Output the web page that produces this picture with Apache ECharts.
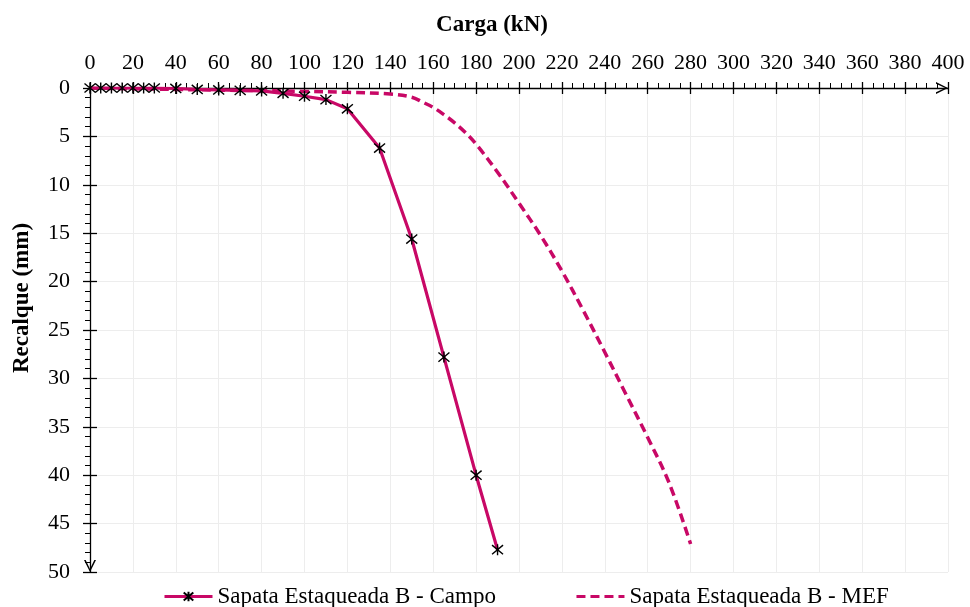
<!DOCTYPE html>
<html>
<head>
<meta charset="utf-8">
<script src="https://cdn.jsdelivr.net/npm/echarts@6/dist/echarts.min.js"></script>
<style>
html,body{margin:0;padding:0;background:#fff;}
#chart{width:970px;height:607px;}
</style>
</head>
<body>
<div id="chart"></div>
<script>
// ---- Data ----
var xTitle = 'Carga (kN)';
var yTitle = 'Recalque (mm)';
var seriesNames = ['Sapata Estaqueada B - Campo', 'Sapata Estaqueada B - MEF'];

var campoLoad = [0, 5, 10, 15, 20, 25, 30, 40, 50, 60, 70, 80, 90, 100, 110, 120, 135, 150, 165, 180, 190];
var campoSettle = [0, 0, 0, 0, 0, 0, 0, 0.05, 0.15, 0.2, 0.25, 0.3, 0.55, 0.85, 1.2, 2.15, 6.2, 15.6, 27.8, 40.0, 47.7];

var mefLoad = [0, 20, 40, 60, 80, 100, 120, 140, 150, 155, 160, 165, 170, 175, 180, 190, 200, 210, 220, 230, 240, 250, 260, 270, 280];
var mefSettle = [0, 0.08, 0.15, 0.22, 0.28, 0.35, 0.45, 0.62, 0.95, 1.45, 2.0, 2.75, 3.6, 4.6, 5.8, 8.7, 11.9, 15.2, 18.9, 23.0, 27.3, 31.7, 36.1, 40.8, 47.1];

var xMin = 0, xMax = 400, xStep = 20;
var yMin = 0, yMax = 50, yStep = 5;

function pairs(a, b) { return a.map(function (v, i) { return [v, b[i]]; }); }

// ---- Styles ----
var FONT = '"Liberation Serif", "Times New Roman", serif';
var LINE_COLOR = '#C80866';
var arrowPath = 'path://M0,10 L5,0 L10,10 L8.6,10 L5,2.4 L1.4,10 Z';
var starPath = 'path://M0,0L10,10M10,0L0,10M5,-1L5,11';

var chart = echarts.init(document.getElementById('chart'), null, {renderer: 'canvas'});

var option = {
  animation: false,
  backgroundColor: '#fff',
  grid: {left: 90, right: 22, top: 88, bottom: 35, containLabel: false},
  xAxis: [{
    type: 'value', position: 'top', min: xMin, max: xMax, interval: xStep,
    axisLine: {show: true, onZero: true, lineStyle: {color: '#000', width: 1.3},
      symbol: ['none', arrowPath], symbolSize: [12, 12], symbolOffset: [0, -6]},
    axisTick: {show: true, inside: false, length: 6, lineStyle: {color: '#000', width: 1.3}},
    minorTick: {show: true, splitNumber: 4, length: 5, lineStyle: {color: '#000', width: 1}},
    axisLabel: {margin: 14, fontSize: 22, fontFamily: FONT, color: '#000'},
    splitLine: {show: true, lineStyle: {color: '#EDEDED', width: 1}},
    minorSplitLine: {show: false}
  }, {
    type: 'value', position: 'bottom', min: xMin, max: xMax, interval: xStep,
    axisLine: {show: false, onZero: true},
    axisTick: {show: true, inside: false, length: 6, lineStyle: {color: '#000', width: 1.3}},
    axisLabel: {show: false},
    splitLine: {show: false}
  }],
  yAxis: [{
    type: 'value', position: 'left', inverse: true, min: yMin, max: yMax, interval: yStep,
    axisLine: {show: true, onZero: true, lineStyle: {color: '#000', width: 1.3},
      symbol: [arrowPath, 'none'], symbolSize: [12, 12], symbolOffset: [6, 0]},
    axisTick: {show: true, inside: false, length: 7, lineStyle: {color: '#000', width: 1.3}},
    minorTick: {show: true, splitNumber: 5, length: 5, lineStyle: {color: '#000', width: 1}},
    axisLabel: {margin: 20, fontSize: 22, fontFamily: FONT, color: '#000'},
    splitLine: {show: true, lineStyle: {color: '#EDEDED', width: 1}}
  }, {
    type: 'value', position: 'right', inverse: true, min: yMin, max: yMax, interval: yStep,
    axisLine: {show: false, onZero: true},
    axisTick: {show: true, inside: false, length: 7, lineStyle: {color: '#000', width: 1.3}},
    axisLabel: {show: false},
    splitLine: {show: false}
  }],
  legend: {
    left: 158, top: 580, itemWidth: 48, itemHeight: 12, itemGap: 79,
    textStyle: {fontSize: 23, fontFamily: FONT, color: '#000'},
    lineStyle: {width: 3},
    data: [
      {name: seriesNames[0]},
      {name: seriesNames[1], itemStyle: {color: 'rgba(0,0,0,0)', borderWidth: 0, opacity: 0}}
    ]
  },
  graphic: [{
    type: 'text', x: 492, y: 25,
    style: {text: xTitle, font: 'bold 23px ' + FONT, fill: '#000', align: 'center', verticalAlign: 'middle'}
  }, {
    type: 'text', x: 22, y: 298, rotation: Math.PI / 2,
    style: {text: yTitle, font: 'bold 23px ' + FONT, fill: '#000', align: 'center', verticalAlign: 'middle'}
  }],
  series: [{
    name: seriesNames[1], type: 'line', xAxisIndex: 0, yAxisIndex: 0,
    data: pairs(mefLoad, mefSettle),
    symbol: 'none', smooth: 0.35,
    lineStyle: {color: LINE_COLOR, width: 3.5, type: [9, 5]},
    itemStyle: {color: LINE_COLOR}, z: 2
  }, {
    name: seriesNames[0], type: 'line', xAxisIndex: 0, yAxisIndex: 0,
    data: pairs(campoLoad, campoSettle),
    symbol: starPath, symbolSize: 11, showAllSymbol: true,
    lineStyle: {color: LINE_COLOR, width: 3.2},
    itemStyle: {color: 'rgba(0,0,0,0)', borderColor: '#000', borderWidth: 1.4}, z: 3
  }]
};
chart.setOption(option);
</script>
</body>
</html>
